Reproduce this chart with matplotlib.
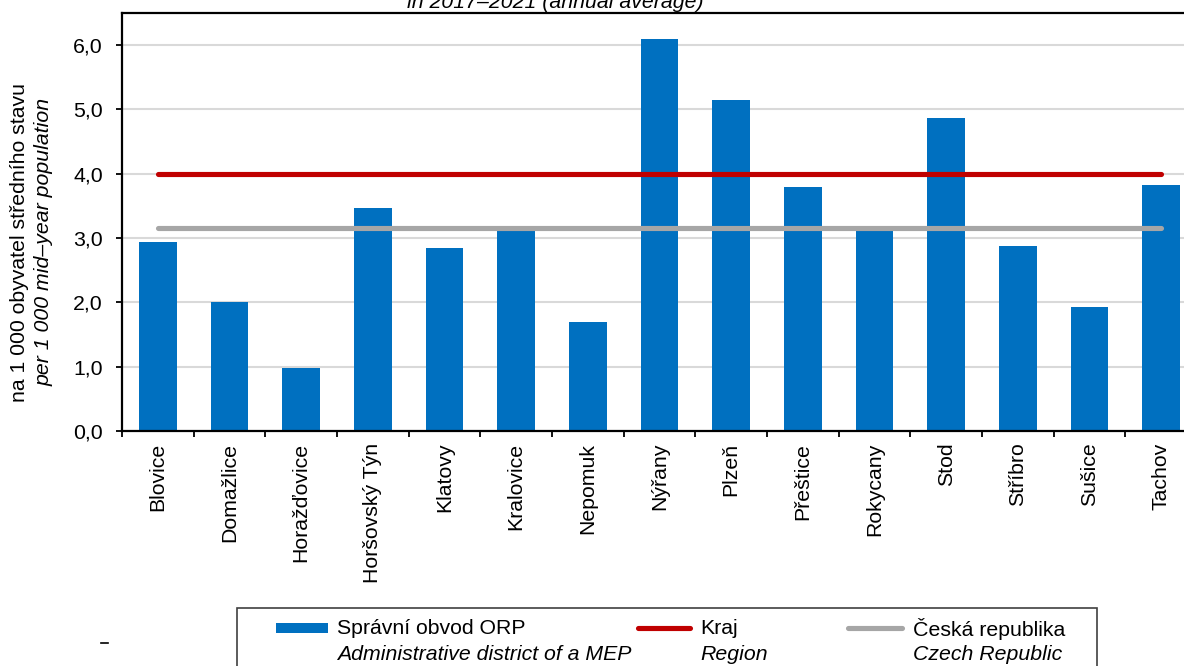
import numpy as np
import matplotlib
matplotlib.use("Agg")
import matplotlib.pyplot as plt
from matplotlib.patches import Rectangle
from matplotlib.lines import Line2D

plt.rcParams['font.family'] = ['Liberation Sans', 'DejaVu Sans']

districts = ["Blovice", "Domažlice", "Horažďovice", "Horšovský Týn", "Klatovy",
             "Kralovice", "Nepomuk", "Nýřany", "Plzeň", "Přeštice", "Rokycany",
             "Stod", "Stříbro", "Sušice", "Tachov"]
orp_values = [2.93, 2.01, 0.98, 3.47, 2.85, 3.12, 1.70, 6.10, 5.14, 3.79, 3.12,
              4.86, 2.87, 1.92, 3.83]
kraj_value = 4.0
cr_value = 3.16
yticks = [0, 1, 2, 3, 4, 5, 6]
ytick_labels = ["0,0", "1,0", "2,0", "3,0", "4,0", "5,0", "6,0"]

blue = '#0070C0'
red = '#C00000'
grey = '#A6A6A6'
FS = 15.3

W, H = 1184, 666


def px(x, y):
    # pixel position (from top-left) -> figure fraction
    return x / W, 1 - y / H


fig = plt.figure(figsize=(W / 100, H / 100), dpi=100)
ax = fig.add_axes([122 / W, 235.2 / H, (1197 - 122) / W, (430.8 - 13) / H])

x = np.arange(len(districts))
ax.bar(x, orp_values, width=0.53, color=blue, zorder=2)
ax.plot([x[0], x[-1]], [kraj_value, kraj_value], color=red, lw=3.7,
        solid_capstyle='round', zorder=3)
ax.plot([x[0], x[-1]], [cr_value, cr_value], color=grey, lw=3.7,
        solid_capstyle='round', zorder=3)

ax.set_xlim(-0.5, len(districts) - 0.5)
ax.set_ylim(0, 6.5)
ax.set_yticks(yticks)
ax.set_yticklabels(ytick_labels, fontsize=FS)
ax.yaxis.grid(True, color='#D9D9D9', lw=1.5)
ax.set_axisbelow(True)

ax.set_xticks(x)
ax.set_xticklabels(districts, rotation=90, fontsize=FS, va='top')
ax.set_xticks(np.arange(-0.5, len(districts)), minor=True)
ax.tick_params(axis='x', which='major', length=0, pad=8.6)
ax.tick_params(axis='x', which='minor', length=4.5, width=1.3, direction='out')
ax.tick_params(axis='y', length=4.3, width=1.3, direction='out', pad=9.5)
for s in ax.spines.values():
    s.set_color('black')
    s.set_linewidth(1.6)

# y-axis label (two lines, second italic)
fig.text(*px(20, 242), "na 1 000 obyvatel středního stavu", rotation=90,
         ha='center', va='center', fontsize=FS)
fig.text(*px(44, 242), "per 1 000 mid–year population", rotation=90,
         ha='center', va='center', fontsize=FS, style='italic')

# title fragment cut off at the top
fig.text(*px(555, 8), "in 2017–2021 (annual average)", ha='center',
         va='baseline', fontsize=FS, style='italic')

# small dash on the left
fig.add_artist(Line2D([101 / W, 108 / W], [1 - 643 / H, 1 - 643 / H],
                      color='black', lw=1.2))

# legend box
lx0, ly0 = px(237, 690)
lx1, ly1 = px(1097, 608)
fig.add_artist(Rectangle((lx0, ly0), lx1 - lx0, ly1 - ly0, transform=fig.transFigure,
                         facecolor='white', edgecolor='#404040', lw=1.2))

bx, by = px(276, 633)
bx2, by2 = px(328, 623)
fig.add_artist(Rectangle((bx, by), bx2 - bx, by2 - by, transform=fig.transFigure,
                         facecolor=blue, edgecolor='none'))
for (x0, x1), col in [((638, 690), red), ((848, 902), grey)]:
    fig.add_artist(Line2D([x0 / W, x1 / W], [1 - 628 / H, 1 - 628 / H], color=col,
                          lw=3.7, solid_capstyle='round'))

legend_entries = [(337, "Správní obvod ORP", "Administrative district of a MEP"),
                  (700, "Kraj", "Region"),
                  (913, "Česká republika", "Czech Republic")]
for tx, l1, l2 in legend_entries:
    fig.text(*px(tx, 629), l1, ha='left', va='center', fontsize=FS)
    fig.text(*px(tx, 655), l2, ha='left', va='center', fontsize=FS, style='italic')

fig.savefig('out.png', dpi=100)
